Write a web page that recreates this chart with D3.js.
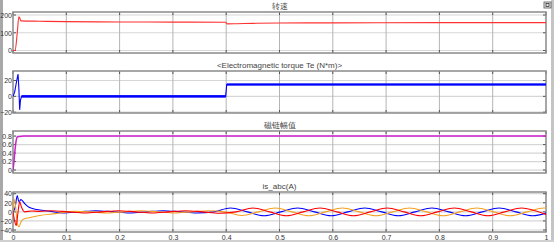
<!DOCTYPE html>
<html>
<head>
<meta charset="utf-8">
<script src="https://cdn.jsdelivr.net/npm/d3@7"></script>
<style>
  html, body { margin: 0; padding: 0; background: #fff; }
  svg { display: block; }
  text { font-family: Arial, "Liberation Sans", sans-serif; }
</style>
</head>
<body>
<svg id="scope" width="554" height="242"></svg>
<script>
// x ticks (time, s)
const xTicks = [0, 0.1, 0.2, 0.3, 0.4, 0.5, 0.6, 0.7, 0.8, 0.9, 1];

// 转速
const speedT = [0, 0.004, 0.008, 0.011, 0.0125, 0.015, 0.05, 0.1, 0.2, 0.3, 0.399, 0.402, 0.42, 0.45, 0.5, 0.6, 0.8, 1.0];
const speedV = [0, 2, 100, 190, 184, 167, 165, 163, 161, 160, 159, 150, 151, 153, 155, 156, 157, 157];

// Te
const torqueT = [0, 0.003, 0.007, 0.0095, 0.011, 0.0125, 0.014, 0.016, 0.399, 0.401, 1.0];
const torqueV = [0, 5, 20, 28, 10, -17, -5, 0, 0, 15, 15];
const torqueRipple = 1.7; // ripple band half width

// 磁链幅值
const fluxT = [0, 0.001, 0.004, 0.006, 0.008, 0.012, 0.02, 0.4, 1.0];
const fluxV = [0, 0.1, 0.5, 0.7, 0.78, 0.79, 0.8, 0.805, 0.805];

// is_abc
const iaT = [0, 0.003, 0.006, 0.009, 0.0125, 0.016, 0.022, 0.035, 0.05, 0.072, 0.1035, 0.135, 0.1665, 0.198, 0.2295, 0.261, 0.2925, 0.324, 0.3555, 0.387, 0.4185, 0.45, 0.4815, 0.513, 0.5445, 0.576, 0.6075, 0.639, 0.6705, 0.702, 0.7335, 0.765, 0.7965, 0.828, 0.8595, 0.891, 0.9225, 0.954, 0.9855, 1.0];
const iaV = [0, -20, -30, -5, 22, 10, 0, 2, 1, 2.5, 0, -2.5, 0, 2.5, 0, -2.5, 0, 2.5, 0, -3, 0, 8.5, 0, -8.5, 0, 8.5, 0, -8.5, 0, 8.5, 0, -8.5, 0, 8.5, 0, -8.5, 0, 8.5, 0, -5.6];
const ibT = [0, 0.004, 0.008, 0.011, 0.015, 0.022, 0.03, 0.045, 0.065, 0.093, 0.1245, 0.156, 0.1875, 0.219, 0.2505, 0.282, 0.3135, 0.345, 0.3765, 0.408, 0.4395, 0.471, 0.5025, 0.534, 0.5655, 0.597, 0.6285, 0.66, 0.6915, 0.723, 0.7545, 0.786, 0.8175, 0.849, 0.8805, 0.912, 0.9435, 0.975, 1.0];
const ibV = [0, 10, 36, 22, 27, 18, 10, 5, 2, -2.5, 0, 2.5, 0, -2.5, 0, 2.5, 0, -2.5, 0, 8.5, 0, -8.5, 0, 8.5, 0, -8.5, 0, 8.5, 0, -8.5, 0, 8.5, 0, -8.5, 0, 8.5, 0, -8.5, -2.7];
const icT = [0, 0.002, 0.005, 0.008, 0.011, 0.015, 0.02, 0.03, 0.05, 0.08, 0.114, 0.1455, 0.177, 0.2085, 0.24, 0.2715, 0.303, 0.3345, 0.366, 0.3975, 0.429, 0.4605, 0.492, 0.5235, 0.555, 0.5865, 0.618, 0.6495, 0.681, 0.7125, 0.744, 0.7755, 0.807, 0.8385, 0.87, 0.9015, 0.933, 0.9645, 0.996, 1.0];
const icV = [0, 28, 10, -25, -33, -22, -16, -13, -8, -4, 1, 0, -2.5, 0, 2.5, 0, -2.5, 0, 2.5, 0, -8, 0, 8.5, 0, -8.5, 0, 8.5, 0, -8.5, 0, 8.5, 0, -8.5, 0, 8.5, 0, -8.5, 0, 8.5, 8.4];

const zip = (ts, vs) => ts.map((t, i) => ({ t, v: vs[i] }));

const svg = d3.select('#scope');
const W = 554, H = 242;
const x = d3.scaleLinear().domain([0, 1]).range([13, 546]);

// window frame
svg.append('rect').attr('x', 0).attr('y', 0).attr('width', 3).attr('height', H).attr('fill', '#a8a8a8');
svg.append('rect').attr('x', 551).attr('y', 0).attr('width', 3).attr('height', H).attr('fill', '#c4c4c4');
svg.append('rect').attr('x', 0).attr('y', 240).attr('width', W).attr('height', 2).attr('fill', '#d0d0d0');
// dock icon, top right
const icon = svg.append('g').attr('transform', 'translate(544,2)');
icon.append('rect').attr('width', 7).attr('height', 6).attr('fill', '#e8e8e8').attr('stroke', '#555').attr('stroke-width', 0.8);
icon.append('rect').attr('x', 2).attr('y', 1.5).attr('width', 3).attr('height', 3).attr('fill', 'none').attr('stroke', '#333').attr('stroke-width', 0.8);

const panels = [
  { title: '转速', top: 12, bottom: 53, domain: [-14, 217], ticks: [0, 100, 200] },
  { title: '<Electromagnetic torque Te (N*m)>', top: 71, bottom: 113, domain: [-21, 32], ticks: [-20, 0, 20] },
  { title: '磁链幅值', top: 131, bottom: 173, domain: [-0.07, 0.92], ticks: [0, 0.2, 0.4, 0.6, 0.8] },
  { title: 'is_abc(A)', top: 192, bottom: 232, domain: [-44.4, 43.7], ticks: [-40, -20, 0, 20, 40] }
];

panels.forEach((p, k) => {
  const y = d3.scaleLinear().domain(p.domain).range([p.bottom, p.top]);
  p.y = y;
  const g = svg.append('g').attr('class', `panel panel-${k}`);
  const clipId = `clip-${k}`;
  svg.append('clipPath').attr('id', clipId)
    .append('rect').attr('x', x(0)).attr('y', p.top).attr('width', x(1) - x(0)).attr('height', p.bottom - p.top);
  p.clip = `url(#${clipId})`;

  // title
  g.append('text')
    .attr('x', (x(0) + x(1)) / 2)
    .attr('y', p.top - 3)
    .attr('text-anchor', 'middle')
    .attr('font-size', '8px')
    .attr('fill', '#444')
    .text(p.title);

  // horizontal grid
  g.append('g')
    .selectAll('line')
    .data(p.ticks)
    .join('line')
    .attr('x1', x(0)).attr('x2', x(1))
    .attr('y1', d => y(d)).attr('y2', d => y(d))
    .attr('stroke', '#d6d6d6')
    .attr('stroke-width', 1.2);

  // vertical grid
  g.append('g')
    .selectAll('line')
    .data(xTicks.slice(1, -1))
    .join('line')
    .attr('x1', d => x(d)).attr('x2', d => x(d))
    .attr('y1', p.top).attr('y2', p.bottom)
    .attr('stroke', '#b4b4b4')
    .attr('stroke-width', 1);

  // tick marks top/bottom
  const tk = g.append('g').attr('stroke', '#555').attr('stroke-width', 1);
  xTicks.forEach(d => {
    tk.append('line').attr('x1', x(d)).attr('x2', x(d)).attr('y1', p.top).attr('y2', p.top + 3);
    tk.append('line').attr('x1', x(d)).attr('x2', x(d)).attr('y1', p.bottom - 3).attr('y2', p.bottom);
  });
  p.ticks.forEach(d => {
    tk.append('line').attr('x1', x(0)).attr('x2', x(0) + 3).attr('y1', y(d)).attr('y2', y(d));
    tk.append('line').attr('x1', x(1) - 3).attr('x2', x(1)).attr('y1', y(d)).attr('y2', y(d));
  });

  // frame
  g.append('rect')
    .attr('x', x(0)).attr('y', p.top)
    .attr('width', x(1) - x(0)).attr('height', p.bottom - p.top)
    .attr('fill', 'none')
    .attr('stroke', '#8a8a8a')
    .attr('stroke-width', 1.5);

  // y tick labels
  const yAxis = d3.axisLeft(y).tickValues(p.ticks).tickSize(0).tickPadding(1)
    .tickFormat(d => d3.format('~g')(d));
  g.append('g')
    .attr('transform', `translate(${x(0)},0)`)
    .call(yAxis)
    .call(a => a.select('.domain').remove())
    .call(a => a.selectAll('text').attr('font-size', '7px').attr('fill', '#333').attr('font-family', 'Arial, "Liberation Sans", sans-serif'));

  if (k === panels.length - 1) {
    const xAxis = d3.axisBottom(x).tickValues(xTicks).tickSize(0).tickPadding(3)
      .tickFormat(d => d3.format('~g')(d));
    g.append('g')
      .attr('transform', `translate(0,${p.bottom})`)
      .call(xAxis)
      .call(a => a.select('.domain').remove())
      .call(a => a.selectAll('text').attr('font-size', '7px').attr('fill', '#333').attr('font-family', 'Arial, "Liberation Sans", sans-serif'));
  }
});

const lineFor = y => d3.line().x(d => x(d.t)).y(d => y(d.v)).curve(d3.curveMonotoneX);
const plot = svg.append('g').attr('class', 'traces');

// 转速
plot.append('path')
  .datum(zip(speedT, speedV))
  .attr('clip-path', panels[0].clip)
  .attr('d', lineFor(panels[0].y))
  .attr('fill', 'none').attr('stroke', '#ff3030').attr('stroke-width', 1.1);

// Te with ripple band
const te = zip(torqueT, torqueV);
const band = te.filter(d => d.t >= 0.016);
plot.append('path')
  .datum(band)
  .attr('clip-path', panels[1].clip)
  .attr('d', d3.area()
    .x(d => x(d.t))
    .y0(d => panels[1].y(d.v - torqueRipple))
    .y1(d => panels[1].y(d.v + torqueRipple)))
  .attr('fill', '#1f1fff');
plot.append('path')
  .datum(te)
  .attr('clip-path', panels[1].clip)
  .attr('d', d3.line().x(d => x(d.t)).y(d => panels[1].y(d.v)))
  .attr('fill', 'none').attr('stroke', '#0000ff').attr('stroke-width', 1.1);

// 磁链幅值
plot.append('path')
  .datum(zip(fluxT, fluxV))
  .attr('clip-path', panels[2].clip)
  .attr('d', lineFor(panels[2].y))
  .attr('fill', 'none').attr('stroke', '#cc22cc').attr('stroke-width', 1.5);

// is_abc
[[ibT, ibV, '#0000ff'], [icT, icV, '#f5a020'], [iaT, iaV, '#ff0000']].forEach(([ts, vs, c]) => {
  plot.append('path')
    .datum(zip(ts, vs))
    .attr('clip-path', panels[3].clip)
    .attr('d', lineFor(panels[3].y))
    .attr('fill', 'none').attr('stroke', c).attr('stroke-width', 1.1);
});
</script>
</body>
</html>
